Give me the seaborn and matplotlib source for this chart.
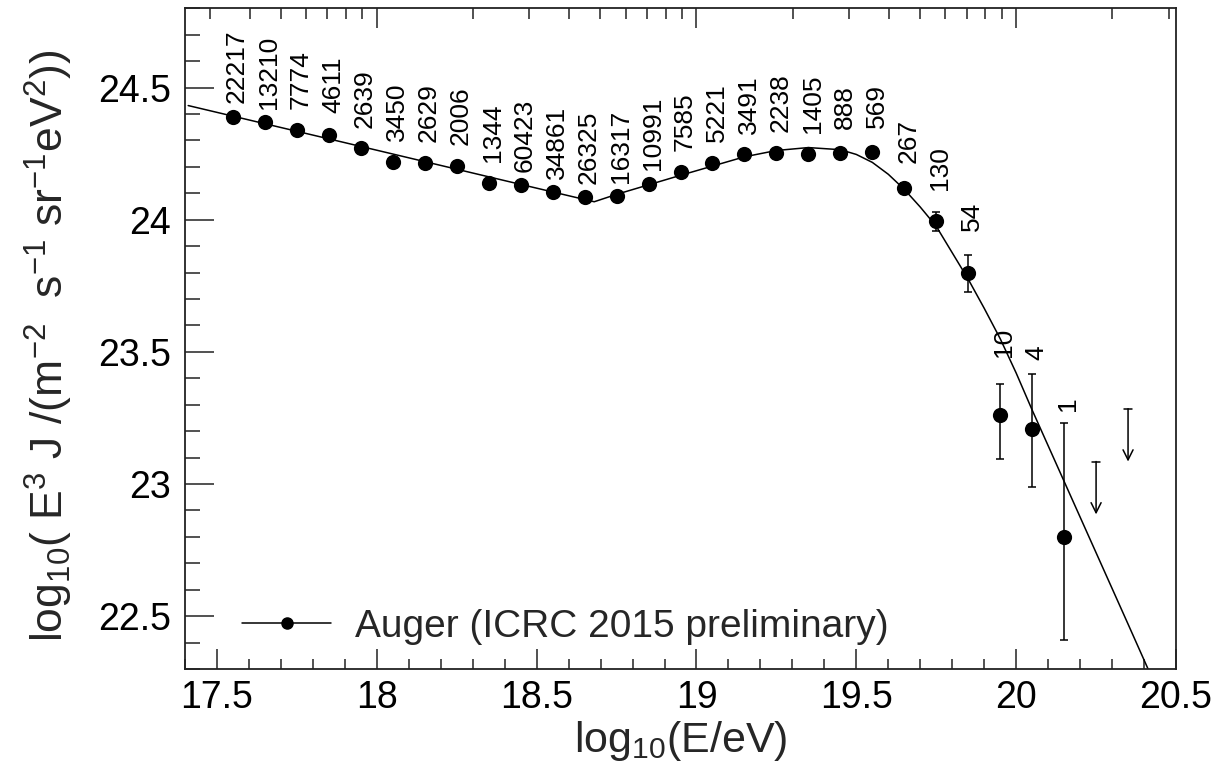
import numpy as np
import pandas as pd
import matplotlib
matplotlib.use("Agg")
import matplotlib.pyplot as plt
from matplotlib.lines import Line2D
from matplotlib.ticker import MultipleLocator, FuncFormatter, FixedLocator
import seaborn as sns

# ---------------- data ----------------
log_e = [17.55, 17.65, 17.75, 17.85, 17.95, 18.05, 18.15, 18.25, 18.35,
         18.45, 18.55, 18.65, 18.75, 18.85, 18.95, 19.05, 19.15, 19.25,
         19.35, 19.45, 19.55, 19.65, 19.75, 19.85, 19.95, 20.05, 20.15]
flux = [24.39, 24.37, 24.34, 24.32, 24.27, 24.22, 24.215, 24.203, 24.14,
        24.13, 24.105, 24.086, 24.09, 24.136, 24.18, 24.215, 24.247, 24.253,
        24.25, 24.253, 24.257, 24.12, 23.996, 23.80, 23.26, 23.207, 22.80]
err_up = [0.0] * 20 + [0.01, 0.02, 0.035, 0.065, 0.12, 0.21, 0.43]
err_dn = [0.0] * 20 + [0.01, 0.02, 0.04, 0.073, 0.166, 0.22, 0.39]
events = ["22217", "13210", "7774", "4611", "2639", "3450", "2629", "2006",
          "1344", "60423", "34861", "26325", "16317", "10991", "7585", "5221",
          "3491", "2238", "1405", "888", "569", "267", "130", "54", "10", "4", "1"]

ul_log_e = [20.25, 20.35]
ul_flux = [23.085, 23.285]

fit_log_e = [17.41, 18.0, 18.4, 18.68, 18.75, 18.85, 18.95, 19.05, 19.15,
             19.25, 19.35, 19.45, 19.5, 19.55, 19.6, 19.65, 19.7, 19.75,
             19.8, 19.85, 19.9, 19.95, 20.0, 20.05, 20.1, 20.15, 20.25,
             20.35, 20.42]
fit_flux = [24.432, 24.263, 24.148, 24.068, 24.096, 24.132, 24.168, 24.203,
            24.238, 24.262, 24.273, 24.265, 24.247, 24.217, 24.172, 24.115,
            24.048, 23.975, 23.875, 23.775, 23.665, 23.55, 23.42, 23.28,
            23.145, 23.01, 22.74, 22.47, 22.28]

legend_label = "Auger (ICRC 2015 preliminary)"
x_label = r"log$_{10}$(E/eV)"
y_label = r"log$_{10}$( E$^{3}$ J /(m$^{-2}$  s$^{-1}$ sr$^{-1}$eV$^{2}$))"

# ---------------- layout / style ----------------
label_dy_px = [50] * 19 + [46, 46, 47, 53, 56, 73, 77, 133]
ul_arrow_len = 0.2

sns.set_theme(style="ticks")
plt.rcParams["font.family"] = ["Liberation Sans", "DejaVu Sans"]
plt.rcParams["mathtext.default"] = "regular"

fig = plt.figure(figsize=(12.31, 7.77), dpi=100)
ax = fig.add_axes([185 / 1231, 1 - 669 / 777, 991 / 1231, 660.7 / 777])

df_fit = pd.DataFrame({"x": fit_log_e, "y": fit_flux})
df_pts = pd.DataFrame({"x": log_e, "y": flux})

sns.lineplot(data=df_fit, x="x", y="y", ax=ax, color="black", lw=1.1,
             sort=False, estimator=None, zorder=2)

ax.errorbar(log_e, flux, yerr=[err_dn, err_up], fmt="none", ecolor="black",
            elinewidth=1.1, capsize=3.2, capthick=1.1, zorder=3)
sns.scatterplot(data=df_pts, x="x", y="y", ax=ax, color="black", s=120,
                edgecolor="black", linewidth=0, zorder=4)

# upper limits
for xu, yu in zip(ul_log_e, ul_flux):
    ax.plot([xu - 0.012, xu + 0.012], [yu, yu], color="black", lw=1.1)
    ax.annotate("", xy=(xu, yu - ul_arrow_len), xytext=(xu, yu),
                arrowprops=dict(arrowstyle="->", color="black", lw=1.1,
                                shrinkA=0, shrinkB=0, mutation_scale=18))

# event count labels
for xv, yv, t, dy in zip(log_e, flux, events, label_dy_px):
    ax.annotate(t, (xv, yv), xytext=(3, dy * 0.72), textcoords="offset points",
                rotation=90, ha="center", va="center", fontsize=19,
                color="black")

ax.set_xlim(17.4, 20.5)
ax.set_ylim(22.3, 24.8)

# top axis: log-energy ticks (no labels)
top = ax.twiny()
top.set_xlim(ax.get_xlim())
top_major = [18.0, 19.0, 20.0]
top_minor = [np.log10(k * 10.0 ** n) for n in (17, 18, 19, 20) for k in range(2, 10)]
top.xaxis.set_major_locator(FixedLocator(top_major))
top.xaxis.set_minor_locator(FixedLocator([t for t in top_minor if 17.4 < t < 20.5]))
top.tick_params(axis="x", which="major", direction="in", length=14.4, width=1.1,
                labeltop=False, labelbottom=False, colors="#222222")
top.tick_params(axis="x", which="minor", direction="in", length=8, width=1.1,
                colors="#222222")
for s in top.spines.values():
    s.set_visible(False)

fmt = FuncFormatter(lambda v, p: f"{v:g}")
ax.xaxis.set_major_locator(MultipleLocator(0.5))
ax.xaxis.set_minor_locator(MultipleLocator(0.1))
ax.yaxis.set_major_locator(MultipleLocator(0.5))
ax.yaxis.set_minor_locator(MultipleLocator(0.1))
ax.xaxis.set_major_formatter(fmt)
ax.yaxis.set_major_formatter(fmt)

ax.tick_params(axis="x", which="major", direction="in", length=14.4, width=1.1,
               labelsize=27, pad=8, colors="#222222", labelcolor="black",
               top=False, bottom=True, labelbottom=True)
ax.tick_params(axis="x", which="minor", direction="in", length=7.2, width=1.1,
               colors="#222222", top=False, bottom=True)
ax.tick_params(axis="y", which="major", direction="in", length=20.9, width=1.1,
               labelsize=27, pad=10, colors="#222222", labelcolor="black",
               left=True, right=False, labelleft=True, labelright=False)
ax.tick_params(axis="y", which="minor", direction="in", length=10.8, width=1.1,
               colors="#222222", left=True, right=False)
for s in ax.spines.values():
    s.set_visible(True)
    s.set_color("#222222")
    s.set_linewidth(1.3)

ax.set_xlabel(x_label, fontsize=31)
ax.set_ylabel(y_label, fontsize=32)
ax.xaxis.set_label_coords(0.5, -0.076)
ax.yaxis.set_label_coords(-0.111, 0.49)

handle = Line2D([], [], color="black", lw=1.1, marker="o", markersize=8)
ax.legend([handle], [legend_label], loc="center left",
          bbox_to_anchor=(0.0575, 0.064), frameon=False, fontsize=28,
          borderpad=0, borderaxespad=0, handlelength=2.3, handletextpad=0.6)

fig.savefig("out.png", dpi=100)
